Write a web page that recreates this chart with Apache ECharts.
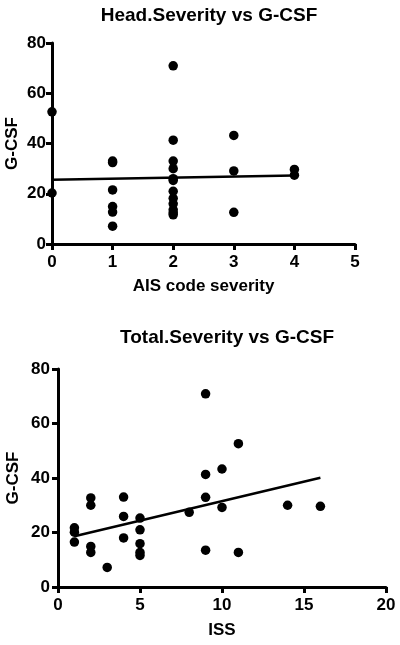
<!DOCTYPE html>
<html>
<head>
<meta charset="utf-8">
<script src="https://cdn.jsdelivr.net/npm/echarts@6/dist/echarts.min.js"></script>
<style>html,body{margin:0;padding:0;background:#fff}#c{width:400px;height:645px}</style>
</head>
<body>
<div id="c"></div>
<script>
// Top chart: Head.Severity (AIS code severity) vs G-CSF
const headAIS  = [0, 0, 1, 1, 1, 1, 1, 1, 2, 2, 2, 2, 2, 2, 2, 2, 2, 2, 2, 2, 3, 3, 3, 4, 4];
const headGCSF = [52.6, 20.3, 33.0, 32.4, 21.5, 14.9, 12.7, 7.1, 70.9, 41.3, 33.0, 30.0, 26.0, 25.3, 21.0, 18.2, 16.0, 13.6, 12.4, 11.6, 43.2, 29.1, 12.6, 29.7, 27.4];
const headFitX = [0, 4];
const headFitY = [25.6, 27.3];

// Bottom chart: Total.Severity (ISS) vs G-CSF
const issX    = [1, 1, 1, 2, 2, 2, 2, 3, 4, 4, 4, 5, 5, 5, 5, 5, 8, 9, 9, 9, 9, 10, 10, 11, 11, 14, 16];
const issGCSF = [21.7, 20.1, 16.5, 32.7, 30.0, 14.9, 12.7, 7.2, 33.0, 25.9, 18.0, 25.3, 21.0, 15.9, 12.7, 11.6, 27.4, 70.9, 41.3, 32.9, 13.5, 43.3, 29.2, 52.6, 12.7, 30.0, 29.6];
const issFitX = [1, 16];
const issFitY = [18.6, 40.1];

const titles = ['Head.Severity vs G-CSF', 'Total.Severity vs G-CSF'];
const xNames = ['AIS code severity', 'ISS'];
const yName = 'G-CSF';

const FONT = 'Liberation Sans, Arial, Helvetica, sans-serif';
const zip = (a, b) => a.map((v, i) => [v, b[i]]);

const axisCommon = {
  axisLine: { show: true, onZero: false, lineStyle: { color: '#000', width: 3 } },
  axisTick: { show: true, inside: false, length: 6, lineStyle: { color: '#000', width: 3 } },
  splitLine: { show: false },
  axisLabel: { color: '#000', fontFamily: FONT, fontWeight: 'bold', fontSize: 17 },
  nameTextStyle: { color: '#000', fontFamily: FONT, fontWeight: 'bold', fontSize: 17 },
  nameLocation: 'middle',
  nameMoveOverlap: false
};
function ax(extra) {
  const o = JSON.parse(JSON.stringify(axisCommon));
  for (const k in extra) {
    if (typeof extra[k] === 'object' && o[k]) Object.assign(o[k], extra[k]); else o[k] = extra[k];
  }
  return o;
}

const chart = echarts.init(document.getElementById('c'), null, { renderer: 'canvas' });
chart.setOption({
  animation: false,
  backgroundColor: '#fff',
  title: [
    { text: titles[0], left: 204, top: 1, textAlign: 'center',
      textStyle: { fontFamily: FONT, fontWeight: 'bold', fontSize: 19, color: '#000' } },
    { text: titles[1], left: 222, top: 323, textAlign: 'center',
      textStyle: { fontFamily: FONT, fontWeight: 'bold', fontSize: 19, color: '#000' } }
  ],
  grid: [
    { left: 52, top: 43, width: 303, height: 201, containLabel: false, outerBoundsMode: 'none' },
    { left: 58, top: 369, width: 328, height: 218, containLabel: false, outerBoundsMode: 'none' }
  ],
  xAxis: [
    ax({ type: 'value', gridIndex: 0, min: 0, max: 5, interval: 1, name: xNames[0], nameGap: 34,
         axisLabel: { margin: 10 } }),
    ax({ type: 'value', gridIndex: 1, min: 0, max: 20, interval: 5, name: xNames[1], nameGap: 35,
         axisLabel: { margin: 10 } })
  ],
  yAxis: [
    ax({ type: 'value', gridIndex: 0, min: 0, max: 80, interval: 20, name: yName, nameGap: 31,
         axisLabel: { margin: 6 } }),
    ax({ type: 'value', gridIndex: 1, min: 0, max: 80, interval: 20, name: yName, nameGap: 36,
         axisLabel: { margin: 8 } })
  ],
  series: [
    { type: 'scatter', xAxisIndex: 0, yAxisIndex: 0, data: zip(headAIS, headGCSF),
      symbol: 'circle', symbolSize: 9.5, itemStyle: { color: '#000', opacity: 1 }, clip: false },
    { type: 'line', xAxisIndex: 0, yAxisIndex: 0, data: zip(headFitX, headFitY),
      showSymbol: false, symbol: 'none', lineStyle: { color: '#000', width: 2.5 } },
    { type: 'scatter', xAxisIndex: 1, yAxisIndex: 1, data: zip(issX, issGCSF),
      symbol: 'circle', symbolSize: 9.5, itemStyle: { color: '#000', opacity: 1 }, clip: false },
    { type: 'line', xAxisIndex: 1, yAxisIndex: 1, data: zip(issFitX, issFitY),
      showSymbol: false, symbol: 'none', lineStyle: { color: '#000', width: 2.5 } }
  ]
});
</script>
</body>
</html>
